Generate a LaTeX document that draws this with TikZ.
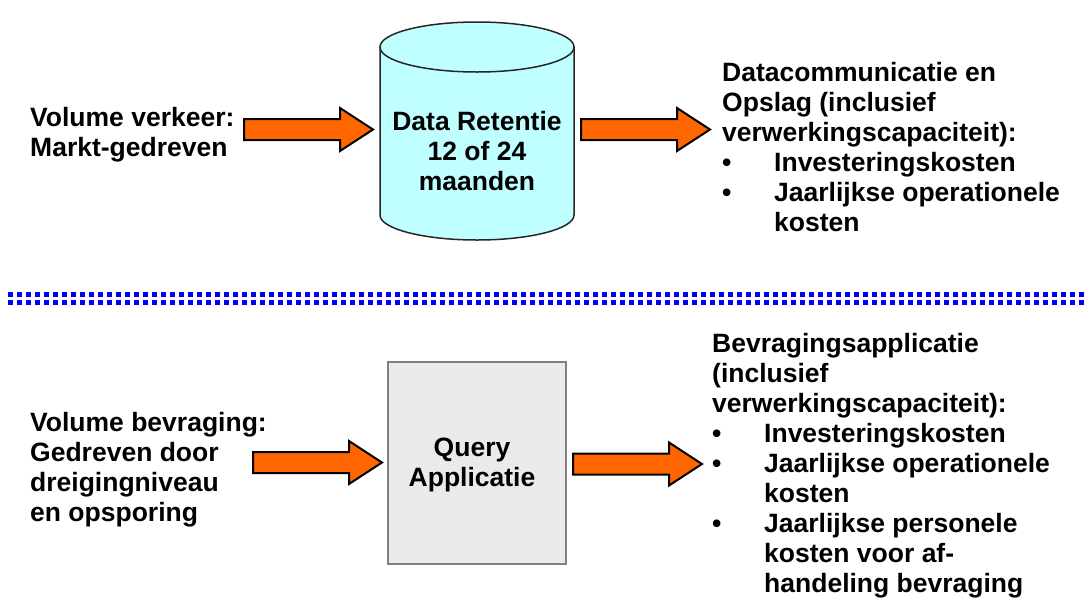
\documentclass[tikz,border=0pt]{standalone}
\usepackage{fontspec}
\setmainfont{Liberation Sans}
\definecolor{arroworange}{RGB}{255,102,0}
\definecolor{cylcyan}{RGB}{192,255,255}
\definecolor{boxgray}{RGB}{234,234,234}
\definecolor{boxedge}{RGB}{128,128,128}
\definecolor{sepblue}{RGB}{0,0,255}
\newcommand{\bulitem}{\makebox[52pt][l]{•}}
\newcommand{\contind}{\hspace*{52pt}}
\begin{document}
\begin{tikzpicture}[x=1pt,y=-1pt,
  txt/.style={font=\fontsize{26.5}{30}\selectfont\bfseries, inner sep=0pt, align=left},
  ctxt/.style={font=\fontsize{26.5}{30}\selectfont\bfseries, inner sep=0pt, align=center},
  blkarrow/.style={draw=black, line width=2pt, fill=arroworange, line join=miter},
  cylbody/.style={draw=black!85, line width=1.5pt, fill=cylcyan},
  qbox/.style={draw=boxedge, line width=1.5pt, fill=boxgray, inner sep=0pt},
  sepline/.style={draw=sepblue, line width=5pt, dash pattern=on 5pt off 4pt},
  bigarrow/.pic={\path[blkarrow] (0,-10.5) -- (96,-10.5) -- (96,-21.5) -- (129,0) -- (96,21.5) -- (96,10.5) -- (0,10.5) -- cycle;}
]
\useasboundingbox (0,0) rectangle (1086,603);

% top row (node base = baseline of last line)
\node[txt, anchor=base west] (vv) at (30,156) {Volume verkeer:\\Markt-gedreven};
\coordinate (a1) at (244,129.5);
\pic at (a1) {bigarrow};

\path[cylbody] (380,47) -- (380,215) .. controls (380,228.8) and (423.4,240) .. (477,240)
  .. controls (530.6,240) and (574,228.8) .. (574,215) -- (574,47) -- cycle;
\path[cylbody] (477,47) ellipse [x radius=97, y radius=25];
\node[ctxt, anchor=base] (drt) at (477,190) {Data Retentie\\12 of 24\\maanden};

\coordinate (a2) at (581,129.5);
\pic at (a2) {bigarrow};
\node[txt, anchor=base west] (dco) at (722,231) {Datacommunicatie en\\Opslag (inclusief\\verwerkingscapaciteit):\\\bulitem Investeringskosten\\\bulitem Jaarlijkse operationele\\\contind kosten};

% separator
\coordinate (s1) at (8,294.5);
\coordinate (s2) at (1084,294.5);
\coordinate (s3) at (8,302.5);
\coordinate (s4) at (1084,302.5);
\draw[sepline] (s1) -- (s2);
\draw[sepline] (s3) -- (s4);

% bottom row
\node[txt, anchor=base west] (vb) at (30,521) {Volume bevraging:\\Gedreven door\\dreigingniveau\\en opsporing};
\coordinate (a3) at (253,462.5);
\pic at (a3) {bigarrow};
\node[qbox, minimum width=178pt, minimum height=202pt] (qa) at (477,463) {};
\node[ctxt, anchor=base] (qat) at (472,486) {Query\\Applicatie};
\coordinate (a4) at (573,464);
\pic at (a4) {bigarrow};
\node[txt, anchor=base west] (bva) at (712,592) {Bevragingsapplicatie\\(inclusief\\verwerkingscapaciteit):\\\bulitem Investeringskosten\\\bulitem Jaarlijkse operationele\\\contind kosten\\\bulitem Jaarlijkse personele\\\contind kosten voor af-\\\contind handeling bevraging};
\end{tikzpicture}
\end{document}
